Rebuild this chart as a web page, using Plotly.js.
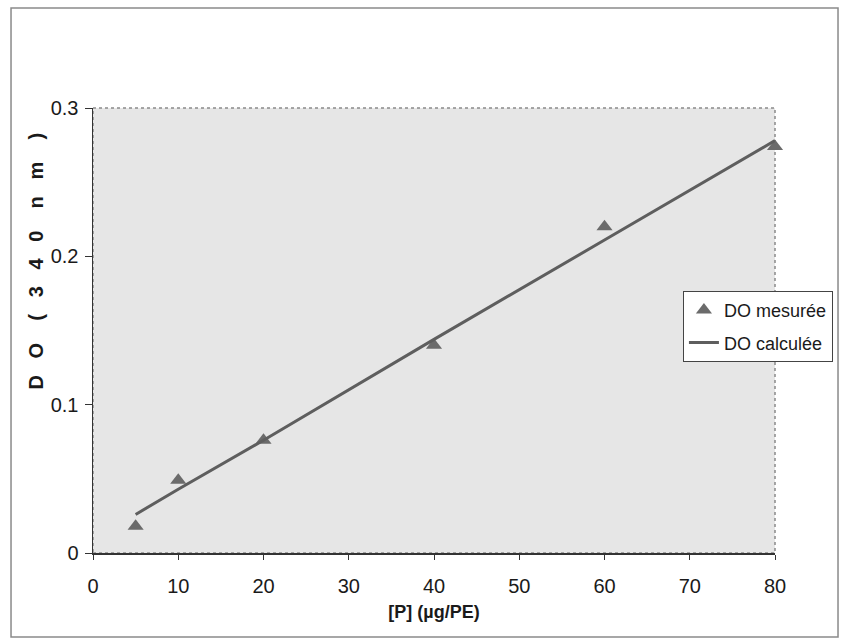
<!DOCTYPE html>
<html>
<head>
<meta charset="utf-8">
<script src="https://cdn.plot.ly/plotly-3.0.1.min.js"></script>
<style>
html,body{margin:0;padding:0;background:#fff;}
#chart{width:842px;height:640px;}
</style>
</head>
<body>
<div id="chart"></div>
<script>
const concentrations = [5, 10, 20, 40, 60, 80];
const doMesuree = [0.018, 0.049, 0.076, 0.140, 0.220, 0.274];
const doCalculee = [0.026, 0.043, 0.076, 0.144, 0.211, 0.278];
const xTickVals = [0, 10, 20, 30, 40, 50, 60, 70, 80];
const yTickVals = [0, 0.1, 0.2, 0.3];
const yTickText = ['0', '0.1', '0.2', '0.3'];
const seriesNames = ['DO mesurée', 'DO calculée'];
const xTitle = '[P] (µg/PE)';
const yTitle = 'D\u00a0\u00a0\u00a0O\u00a0\u00a0\u00a0\u00a0(\u00a0\u00a0\u00a03\u00a0\u00a0\u00a04\u00a0\u00a0\u00a00\u00a0\u00a0\u00a0\u00a0n\u00a0\u00a0\u00a0m\u00a0\u00a0\u00a0\u00a0)';

const traces = [
  {
    x: concentrations, y: doMesuree, name: seriesNames[0],
    type: 'scatter', mode: 'markers', legendgroup: 'a',
    marker: {symbol: 'triangle-up', size: 14, color: '#6b6b6b'},
    cliponaxis: false
  },
  {
    x: concentrations, y: doCalculee, name: seriesNames[1],
    type: 'scatter', mode: 'lines', legendgroup: 'b',
    line: {color: '#5e5e5e', width: 3}
  }
];

const layout = {
  width: 842, height: 640,
  margin: {l: 93, r: 67, t: 108, b: 87, autoexpand: false},
  paper_bgcolor: '#ffffff',
  plot_bgcolor: '#e6e6e6',
  font: {family: 'Arial, "Liberation Sans", sans-serif', color: '#1a1a1a', size: 19},
  showlegend: true,
  legend: {
    x: 0.865, y: 0.589, xanchor: 'left', yanchor: 'top',
    bgcolor: '#ffffff', bordercolor: '#444', borderwidth: 1,
    font: {size: 18, family: 'Arial, "Liberation Sans", sans-serif', color: '#1a1a1a'},
    traceorder: 'grouped', tracegroupgap: 6, itemwidth: 30
  },
  xaxis: {
    range: [0, 80], tickvals: xTickVals, ticks: 'outside', ticklen: 5,
    tickcolor: '#333', showline: true, linecolor: '#333', linewidth: 1.5,
    showgrid: false, zeroline: false, ticklabelstandoff: 9, automargin: false,
    tickfont: {family: '"Liberation Sans Narrow", "Arial Narrow", Arial, sans-serif', size: 20},
    title: {text: xTitle, standoff: 10,
      font: {family: '"Liberation Sans Narrow", "Arial Narrow", Arial, sans-serif', size: 18, weight: 'bold'}}
  },
  yaxis: {
    range: [0, 0.3], tickvals: yTickVals, ticktext: yTickText, ticks: 'outside', ticklen: 7,
    tickcolor: '#333', showline: true, linecolor: '#333', linewidth: 1.5,
    showgrid: false, zeroline: false, ticklabelstandoff: 2, automargin: false,
    tickfont: {size: 20}
  },
  shapes: [
    {type: 'rect', xref: 'paper', yref: 'paper', x0: 0, x1: 1, y0: 0, y1: 1,
     line: {color: '#8a8a8a', width: 1.5, dash: 'dot'}, layer: 'below'},
    {type: 'rect', xref: 'paper', yref: 'paper', x0: -0.1202, x1: 1.0924, y0: -0.1888, y1: 1.2247,
     line: {color: '#8a8a8a', width: 1.5}, fillcolor: 'rgba(0,0,0,0)'}
  ],
  annotations: [
    {text: yTitle, xref: 'paper', yref: 'paper', x: -0.085, y: 0.655, textangle: -90,
     showarrow: false, xanchor: 'center', yanchor: 'middle',
     font: {size: 20, weight: 'bold', color: '#1a1a1a'}}
  ]
};

Plotly.newPlot('chart', traces, layout, {displayModeBar: false, staticPlot: true});
</script>
</body>
</html>
